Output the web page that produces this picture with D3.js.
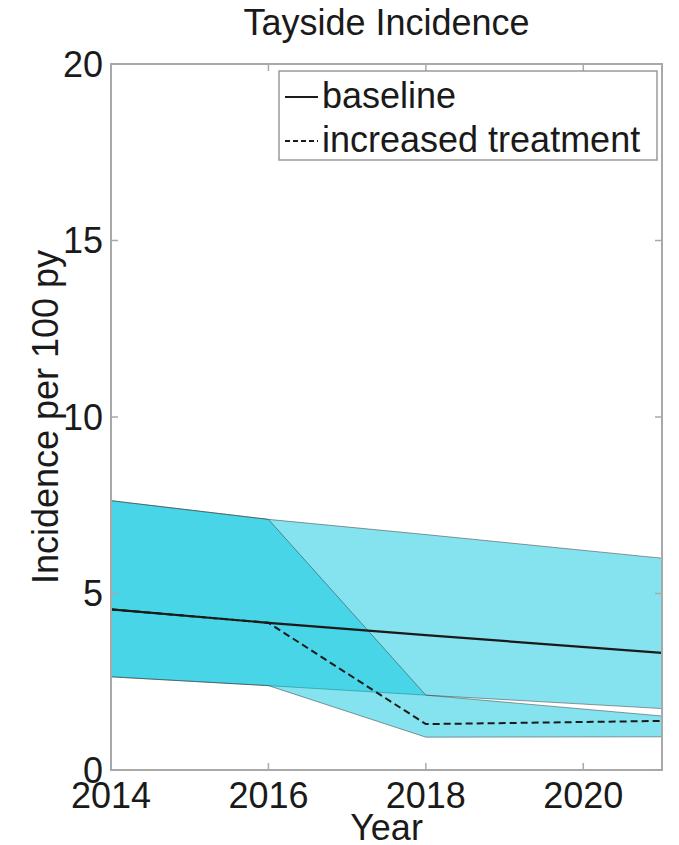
<!DOCTYPE html>
<html>
<head>
<meta charset="utf-8">
<script src="https://cdn.jsdelivr.net/npm/d3@7"></script>
<style>
  html, body { margin: 0; padding: 0; background: #fff; }
  svg { display: block; }
  text { font-family: "Liberation Sans", Arial, Helvetica, sans-serif; fill: #1a1a1a; }
</style>
</head>
<body>
<svg id="chart" width="679" height="845"></svg>
<script>
// ---- data ----
const years = [2014, 2016, 2018, 2021];
const baselineMean = [4.55, 4.17, 3.82, 3.32];
const baselineLow  = [2.64, 2.39, 2.12, 1.74];
const baselineHigh = [7.63, 7.10, 6.67, 6.00];
const increasedMean = [4.55, 4.17, 1.30, 1.39];
const increasedLow  = [2.64, 2.39, 0.93, 0.94];
const increasedHigh = [7.63, 7.10, 2.12, 1.53];
const xTicks = [2014, 2016, 2018, 2020];
const yTicks = [0, 5, 10, 15, 20];
const legendLabels = ["baseline", "increased treatment"];
const titleText = "Tayside Incidence";
const xLabel = "Year";
const yLabel = "Incidence per 100 py";

// ---- layout ----
const pL = 111, pR = 662, pT = 64, pB = 770;
const svg = d3.select("#chart");
const x = d3.scaleLinear().domain([2014, 2021]).range([pL, pR]);
const y = d3.scaleLinear().domain([0, 20]).range([pB, pT]);

const fillColor = "rgb(7,198,222)";
const fillAlpha = 0.49;

function bandData(lo, hi) { return years.map((yr, i) => ({yr, lo: lo[i], hi: hi[i]})); }
const area = d3.area().x(d => x(d.yr)).y0(d => y(d.lo)).y1(d => y(d.hi));

const plot = svg.append("g");
[[baselineLow, baselineHigh], [increasedLow, increasedHigh]].forEach(([lo, hi]) => {
  plot.append("path")
    .datum(bandData(lo, hi))
    .attr("d", area)
    .attr("fill", fillColor)
    .attr("fill-opacity", fillAlpha)
    .attr("stroke", "#333")
    .attr("stroke-opacity", 0.55)
    .attr("stroke-width", 0.9);
});

const line = d3.line().x(d => x(d.yr)).y(d => y(d.v));
plot.append("path")
  .datum(years.map((yr, i) => ({yr, v: increasedMean[i]})))
  .attr("d", line)
  .attr("fill", "none")
  .attr("stroke", "#1a1a1a")
  .attr("stroke-width", 2)
  .attr("stroke-dasharray", "7,4");
plot.append("path")
  .datum(years.map((yr, i) => ({yr, v: baselineMean[i]})))
  .attr("d", line)
  .attr("fill", "none")
  .attr("stroke", "#1a1a1a")
  .attr("stroke-width", 2.2);

// ---- axes box ----
const axisColor = "#a9a9a9";
svg.append("rect")
  .attr("x", pL).attr("y", pT)
  .attr("width", pR - pL).attr("height", pB - pT)
  .attr("fill", "none").attr("stroke", axisColor).attr("stroke-width", 2);

const tickLen = 7;
xTicks.forEach(t => {
  svg.append("line").attr("x1", x(t)).attr("x2", x(t)).attr("y1", pB).attr("y2", pB - tickLen)
    .attr("stroke", axisColor).attr("stroke-width", 1.5);
  svg.append("line").attr("x1", x(t)).attr("x2", x(t)).attr("y1", pT).attr("y2", pT + tickLen)
    .attr("stroke", axisColor).attr("stroke-width", 1.5);
  svg.append("text").attr("x", x(t)).attr("y", 808)
    .attr("text-anchor", "middle").attr("font-size", 36).text(t);
});
yTicks.forEach(t => {
  svg.append("line").attr("x1", pL).attr("x2", pL + tickLen).attr("y1", y(t)).attr("y2", y(t))
    .attr("stroke", axisColor).attr("stroke-width", 1.5);
  svg.append("line").attr("x1", pR).attr("x2", pR - tickLen).attr("y1", y(t)).attr("y2", y(t))
    .attr("stroke", axisColor).attr("stroke-width", 1.5);
  svg.append("text").attr("x", pL - 8).attr("y", y(t)).attr("dy", "0.36em")
    .attr("text-anchor", "end").attr("font-size", 36).text(t);
});

// ---- titles ----
svg.append("text").attr("x", (pL + pR) / 2).attr("y", 35)
  .attr("text-anchor", "middle").attr("font-size", 36).text(titleText);
svg.append("text").attr("x", (pL + pR) / 2).attr("y", 840)
  .attr("text-anchor", "middle").attr("font-size", 36).text(xLabel);
svg.append("text")
  .attr("transform", `translate(58,${(pT + pB) / 2}) rotate(-90)`)
  .attr("text-anchor", "middle").attr("font-size", 36).text(yLabel);

// ---- legend ----
const lg = svg.append("g");
lg.append("rect").attr("x", 279).attr("y", 71).attr("width", 378).attr("height", 89)
  .attr("fill", "#fff").attr("stroke", "#9a9a9a").attr("stroke-width", 1.5);
const legendRows = [{y: 97, dash: null}, {y: 141, dash: "5,3"}];
legendLabels.forEach((lab, i) => {
  const r = legendRows[i];
  lg.append("line").attr("x1", 285).attr("x2", 318).attr("y1", r.y).attr("y2", r.y)
    .attr("stroke", "#1a1a1a").attr("stroke-width", 2)
    .attr("stroke-dasharray", r.dash);
  lg.append("text").attr("x", 322).attr("y", r.y + 11).attr("font-size", 36).text(lab);
});
</script>
</body>
</html>
